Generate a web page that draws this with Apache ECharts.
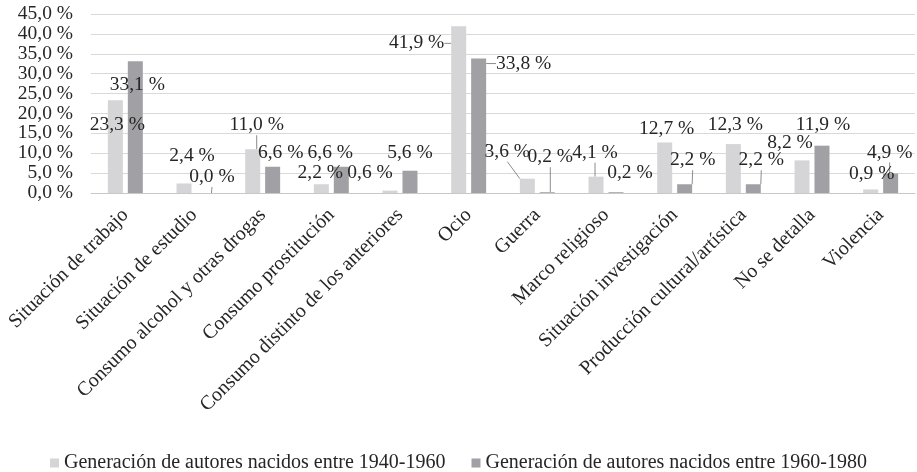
<!DOCTYPE html>
<html>
<head>
<meta charset="utf-8">
<script src="https://cdn.jsdelivr.net/npm/echarts@6/dist/echarts.min.js"></script>
<style>
  html, body { margin: 0; padding: 0; background: #fff; }
  #chart { width: 917px; height: 472px; }
</style>
</head>
<body>
<div id="chart"></div>
<script>
const categories = ['Situación de trabajo', 'Situación de estudio', 'Consumo alcohol y otras drogas',
  'Consumo prostitución', 'Consumo distinto de los anteriores', 'Ocio', 'Guerra', 'Marco religioso',
  'Situación investigación', 'Producción cultural/artística', 'No se detalla', 'Violencia'];
const gen1940 = [23.3, 2.4, 11.0, 2.2, 0.6, 41.9, 3.6, 4.1, 12.7, 12.3, 8.2, 0.9];
const gen1960 = [33.1, 0.0, 6.6, 6.6, 5.6, 33.8, 0.2, 0.2, 2.2, 2.2, 11.9, 4.9];
const seriesNames = ['Generación de autores nacidos entre 1940-1960', 'Generación de autores nacidos entre 1960-1980'];
const yTicks = [0, 5, 10, 15, 20, 25, 30, 35, 40, 45];

// desplazamiento de etiquetas (como en el gráfico original de Excel)
const labelShift = [
  [[2, 25], [8, -28], [4, -24], [-1, -11], [-20, -18], [-42, 17], [-20, -27], [-1, -24], [2, -14], [2, -19], [-12, -18], [1, -16]],
  [[2, 24], [8, -16], [8, -14], [-11, -14], [0, -18], [45, 5], [3, -35], [14, -19], [8, -24], [8, -24], [1, -21], [-1, -21]]
];
const leaderLines = [
  [2, 5, 6, 7],
  [1, 5, 6, 8, 9, 11]
];

const fmt = v => v.toFixed(1).replace('.', ',') + ' %';
const serif = 'Liberation Serif';

const makeData = (values, s) => values.map((v, i) => ({
  value: v,
  labelLine: { show: leaderLines[s].includes(i) }
}));

const chart = echarts.init(document.getElementById('chart'));
const colors = ['#d5d5d7', '#a1a1a5'];

const option = {
  animation: false,
  color: colors,
  textStyle: { fontFamily: serif },
  grid: { left: 91, right: 2, top: 14, bottom: 279 },
  legend: {
    left: 'center', top: 448,
    itemWidth: 9, itemHeight: 9, itemGap: 26,
    icon: 'rect',
    textStyle: { fontFamily: serif, fontSize: 20, color: '#262626' },
    data: seriesNames
  },
  xAxis: {
    type: 'category',
    data: categories,
    axisLine: { lineStyle: { color: '#c8c8c8' } },
    axisTick: { show: false },
    axisLabel: { rotate: 45, interval: 0, margin: 19, fontFamily: serif, fontSize: 20, color: '#262626' }
  },
  yAxis: {
    type: 'value',
    min: yTicks[0], max: yTicks[yTicks.length - 1], interval: 5,
    axisLine: { show: false },
    axisTick: { show: false },
    splitLine: { lineStyle: { color: '#d9d9d9' } },
    axisLabel: { margin: 18, fontFamily: serif, fontSize: 19.5, color: '#262626', formatter: fmt }
  },
  series: [gen1940, gen1960].map((vals, s) => ({
    name: seriesNames[s],
    type: 'bar',
    barWidth: 15,
    barGap: '33%',
    data: makeData(vals, s),
    label: {
      show: true, position: 'top', distance: 0,
      fontFamily: serif, fontSize: 19.5, color: '#262626',
      formatter: p => fmt(p.value)
    },
    labelLine: { show: false, lineStyle: { color: '#8c8c8c', width: 1 } },
    labelLayout: p => {
      const d = labelShift[p.seriesIndex][p.dataIndex];
      return { dx: d[0], dy: d[1] + 10 };
    }
  }))
};
chart.setOption(option);
</script>
</body>
</html>
